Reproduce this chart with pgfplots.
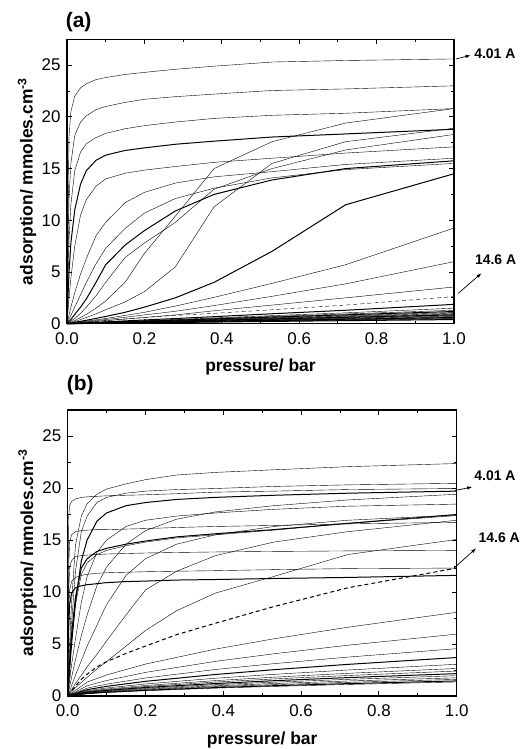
\documentclass[border=0pt]{standalone}
\usepackage{fontspec}
\setmainfont{Liberation Sans}
\usepackage{pgfplots}
\usepackage{pgfplotstable}
\pgfplotsset{compat=1.18}
\usetikzlibrary{arrows.meta}

% panel (a): isotherms with fine grid near p = 0
\pgfplotstableread{
p      a1    a2    a3    a4    a5    a6    a7    s3    x     s1    s2
0      0     0     0     0     0     0     0     0     0     0     0
0.005  18.0  12.0  8.0   4.8   2.4   0.8   0.4   0.2   0.12  0.07  0.05
0.01   20.5  15.5  11.5  7.8   4.4   1.6   0.8   0.4   0.25  0.15  0.1
0.02   22.0  18.2  14.8  11.0  7.5   3.0   1.6   0.9   0.5   0.3   0.2
0.035  22.8  19.5  16.6  13.5  10.5  4.8   2.8   1.6   1.0   0.6   0.4
0.05   23.2  20.1  17.4  14.8  12.0  6.3   4.0   2.4   1.6   0.9   0.6
0.075  23.6  20.7  18.0  15.8  13.3  8.5   5.8   4.0   2.7   1.5   0.95
0.1    23.8  21.0  18.4  16.3  14.0  9.8   7.3   5.7   4.0   2.2   1.35
0.15   24.1  21.4  18.85 16.75 14.55 11.7  9.2   7.6   6.4   4.0   2.1
0.2    24.3  21.7  19.15 17.0  14.85 12.7  10.7  9.0   7.8   6.8   3.1
0.28   24.6  21.95 19.5  17.35 15.2  13.6  12.1  10.9  9.8   10.4  5.5
0.38   24.9  22.2  19.85 17.65 15.6  14.2  13.1  12.5  13.0  15.0  11.3
0.53   25.3  22.55 20.15 18.05 16.0  14.7  14.1  13.9  15.0  17.6  15.5
0.72   25.45 22.7  20.35 18.35 16.5  15.4  14.9  15.0  16.8  19.4  17.6
1.0    25.6  23.0  20.8  18.8  17.1  16.0  15.5  15.75 18.3  20.8  18.9
}\tabAhigh

\pgfplotstableread{
p     l1    l2    l3    l4    d     l5    l6
0     0     0     0     0     0     0     0
0.05  0.33  0.25  0.2   0.15  0.15  0.09  0.07
0.1   0.7   0.5   0.4   0.3   0.3   0.18  0.15
0.15  1.1   0.8   0.62  0.45  0.45  0.27  0.22
0.2   1.6   1.1   0.85  0.6   0.6   0.36  0.29
0.28  2.5   1.7   1.2   0.85  0.8   0.5   0.41
0.38  4.0   2.55  1.75  1.25  1.0   0.68  0.56
0.53  7.0   3.9   2.65  1.8   1.35  0.96  0.78
0.72  11.5  5.7   3.85  2.5   1.8   1.3   1.05
1.0   14.5  9.25  6.0   3.55  2.62  1.87  1.5
}\tabAlow

\pgfplotstableread{
p    b1   b2   b3   b4   b5   b6   b7   b8   b9   b10  b11  b12   b13   b14
0    0    0    0    0    0    0    0    0    0    0    0    0     0     0
0.2  0.27 0.25 0.23 0.21 0.19 0.18 0.16 0.15 0.14 0.13 0.12 0.105 0.095 0.084
0.53 0.70 0.64 0.58 0.54 0.50 0.46 0.42 0.39 0.36 0.32 0.30 0.27  0.24  0.22
1.0  1.3  1.18 1.08 1.0  0.92 0.85 0.78 0.72 0.66 0.6  0.55 0.5   0.45  0.4
}\tabAbunch

% panel (b)
\pgfplotstableread{
p      t1    f1    t2    u2    t3    r1    f2    b1    b2    f3    f4    f5    r2    r2b   r3    d
0      0     0     0     0     0     0     0     0     0     0     0     0     0     0     0     0
0.002  2     17.0  1.5   1.0   0.6   0.4   12.0  1.3   1.1   9.5   7.5   6.0   0.2   0.12  0.08  0.1
0.005  5     18.3  3.8   2.5   1.5   0.9   14.8  3.2   2.8   12.4  10.2  8.8   0.5   0.3   0.2   0.25
0.01   9     18.7  7.0   5.0   3.0   1.8   15.5  6.0   5.4   13.0  11.0  9.9   1.0   0.6   0.4   0.5
0.02   14.5  18.95 12.0  9.0   5.5   3.5   15.8  9.5   8.8   13.4  11.4  10.4  2.0   1.2   0.8   0.95
0.035  17.3  19.1  15.8  13.0  9.0   5.8   15.9  12.3  11.7  13.5  11.6  10.6  3.4   2.0   1.3   1.6
0.05   18.5  19.15 17.3  15.0  11.5  7.8   15.95 13.2  12.8  13.55 11.7  10.7  4.8   2.8   1.8   2.1
0.075  19.4  19.2  18.6  16.8  13.8  10.6  16.0  13.9  13.6  13.6  11.8  10.8  6.8   4.0   2.6   2.8
0.1    19.9  19.25 19.1  17.6  15.0  12.4  16.0  14.2  14.0  13.65 11.85 10.9  8.8   5.3   3.3   3.3
0.15   20.4  19.3  19.5  18.3  16.3  14.6  16.05 14.6  14.45 13.7  11.9  11.0  11.6  7.8   4.8   4.1
0.2    20.8  19.35 19.7  18.6  16.9  15.9  16.1  14.9  14.8  13.75 11.95 11.05 13.2  10.2  6.3   4.8
0.28   21.25 19.45 19.85 18.9  17.3  17.0  16.2  15.3  15.2  13.8  12.0  11.15 14.6  12.0  8.2   5.9
0.38   21.5  19.6  19.95 19.1  17.6  17.7  16.3  15.6  15.5  13.85 12.05 11.2  15.5  13.5  9.9   7.0
0.53   21.75 19.7  20.15 19.3  17.95 18.3  16.4  16.0  15.95 13.9  12.15 11.3  16.3  14.8  11.5  8.6
0.72   22.05 19.85 20.3  19.5  18.25 18.85 16.55 16.6  16.6  13.95 12.25 11.4  16.9  15.8  13.6  10.4
1.0    22.35 19.95 20.45 19.7  18.45 19.4  16.7  17.45 17.35 14.0  12.3  11.6  17.4  16.9  15.05 12.3
}\tabBhigh

\pgfplotstableread{
p     c1   c2   c3   c4   c5   c6   c7   c8   c9   c10  c11  c12  c13
0     0    0    0    0    0    0    0    0    0    0    0    0    0
0.05  1.34 0.99 0.76 0.61 0.51 0.44 0.40 0.36 0.32 0.29 0.27 0.24 0.22
0.1   2.02 1.49 1.14 0.93 0.77 0.67 0.60 0.54 0.49 0.44 0.40 0.36 0.34
0.2   3.07 2.27 1.73 1.41 1.16 1.01 0.91 0.82 0.74 0.67 0.61 0.55 0.51
0.38  4.51 3.33 2.55 2.07 1.71 1.48 1.34 1.20 1.09 0.98 0.90 0.81 0.76
0.53  5.50 4.06 3.11 2.53 2.08 1.81 1.64 1.47 1.33 1.20 1.09 0.99 0.92
0.72  6.61 4.88 3.74 3.04 2.50 2.18 1.97 1.77 1.60 1.44 1.31 1.19 1.11
1.0   8.05 5.95 4.55 3.70 3.05 2.65 2.40 2.15 1.95 1.75 1.60 1.45 1.35
}\tabBlow

\tikzset{
  note/.style={font=\bfseries\fontsize{14}{16}\selectfont, anchor=west, inner sep=0pt},
  pointer/.style={-{Latex[length=5bp,width=3.5bp]}, line width=0.7bp},
}

\pgfplotsset{
  panel/.style={
    scale only axis, clip=false,
    xmin=0, xmax=1, ymin=0, ymax=27.5,
    xtick={0,0.2,0.4,0.6,0.8,1},
    minor xtick={0.1,0.3,0.5,0.7,0.9},
    ytick={0,5,10,15,20,25},
    minor ytick={2.5,7.5,12.5,17.5,22.5},
    tick align=inside,
    major tick length=5bp, minor tick length=3bp,
    every tick/.style={black, line width=0.9bp},
    axis line style={line width=1.1bp},
    /pgf/number format/assume math mode=true,
    tick label style={font=\fontsize{17}{19}\selectfont},
    xticklabel style={yshift=-5bp, /pgf/number format/.cd, fixed, fixed zerofill, precision=1},
    yticklabel style={xshift=-3bp, /pgf/number format/.cd, fixed, precision=1},
    label style={font=\bfseries\fontsize{17.5}{20}\selectfont},
    xlabel={pressure/ bar},
    ylabel={adsorption/ mmoles.cm\textsuperscript{-3}},
    xlabel style={at={(axis description cs:0.5,-0.153)}, anchor=center},
    ylabel style={at={(axis description cs:-0.103,0.5)}, anchor=center},
    cycle list={{black, solid, mark=none, line width=1bp}},
  },
}

\begin{document}
\begin{tikzpicture}
\useasboundingbox (0,0) rectangle (523bp,749bp);

% (a)
\begin{axis}[panel, at={(67bp,425.3bp)}, anchor=south west, width=387bp, height=284.4bp]
  \pgfplotsinvokeforeach{a1,a2,a3,a4,a5,a6,a7,s3,x,s1,s2}{
    \addplot table[x=p, y=#1] {\tabAhigh};
  }
  \pgfplotsinvokeforeach{l1,l2,l3,l4,l5,l6}{
    \addplot table[x=p, y=#1] {\tabAlow};
  }
  \addplot+[dash pattern=on 4bp off 3bp] table[x=p, y=d] {\tabAlow};
  \pgfplotsinvokeforeach{b1,b2,b3,b4,b5,b6,b7,b8,b9,b10,b11,b12,b13,b14}{
    \addplot table[x=p, y=#1] {\tabAbunch};
  }
  \draw[pointer] (axis cs:1.005,25.6) -- (axis cs:1.043,25.95);
  \node[note] at (axis cs:1.052,26.1) {4.01 A};
  \draw[pointer] (axis cs:1.011,2.94) -- (axis cs:1.071,4.88);
  \node[note] at (axis cs:1.054,6.17) {14.6 A};
  \node[font=\bfseries\fontsize{21}{24}\selectfont] at (rel axis cs:0.03,1.062) {(a)};
\end{axis}

% (b)
\begin{axis}[panel, at={(67.7bp,53bp)}, anchor=south west, width=389bp, height=286bp]
  \pgfplotsinvokeforeach{t1,f1,t2,u2,t3,r1,f2,b1,b2,f3,f4,f5,r2,r2b,r3}{
    \addplot table[x=p, y=#1] {\tabBhigh};
  }
  \addplot+[dash pattern=on 4bp off 3bp] table[x=p, y=d] {\tabBhigh};
  \pgfplotsinvokeforeach{c1,c2,c3,c4,c5,c6,c7,c8,c9,c10,c11,c12,c13}{
    \addplot table[x=p, y=#1] {\tabBlow};
  }
  \draw[pointer] (axis cs:0.995,19.75) -- (axis cs:1.04,20.1);
  \node[note] at (axis cs:1.045,21.2) {4.01 A};
  \draw[pointer] (axis cs:0.993,12.3) -- (axis cs:1.05,14.2);
  \node[note] at (axis cs:1.056,15.2) {14.6 A};
  \node[font=\bfseries\fontsize{21}{24}\selectfont] at (rel axis cs:0.032,1.087) {(b)};
\end{axis}
\end{tikzpicture}
\end{document}
